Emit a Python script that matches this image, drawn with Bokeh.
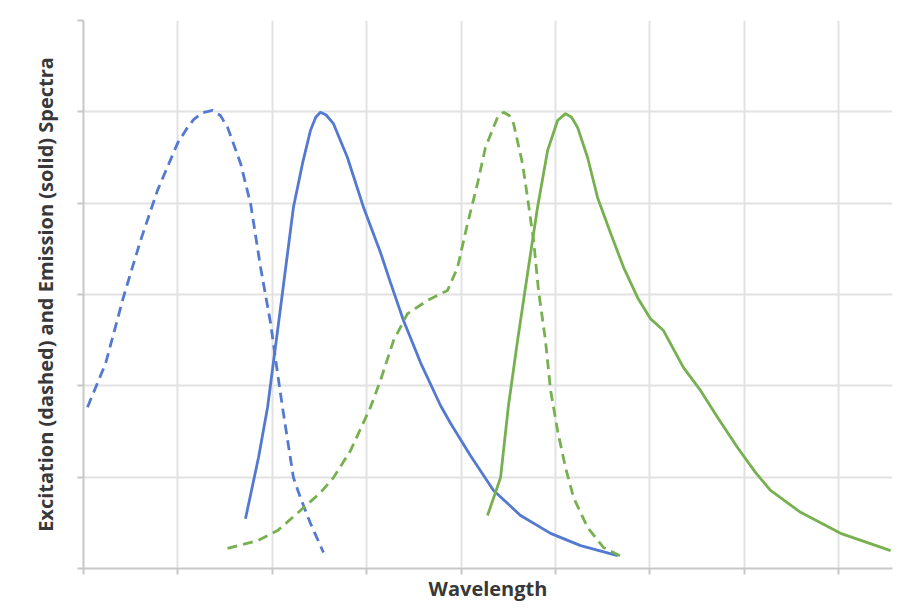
from bokeh.plotting import figure
from bokeh.models import Range1d, FixedTicker
from bokeh.embed import file_html
from bokeh.resources import INLINE

# Blue excitation (dashed)
blue_ex_x = [352.1, 361.7, 371.2, 380.2, 389.2, 399.8, 404.5, 408.3, 413.0, 418.3, 422.5, 426.3,
             433.2, 438.5, 443.8, 449.1, 452.8, 455.4, 461.2, 464.9, 470.2, 477.1]
blue_ex_y = [0.353, 0.449, 0.595, 0.718, 0.828, 0.931, 0.962, 0.983, 0.998, 1.003, 0.992, 0.966,
             0.887, 0.799, 0.659, 0.537, 0.427, 0.353, 0.199, 0.155, 0.099, 0.035]

# Blue emission (solid)
blue_em_x = [435.8, 442.7, 447.5, 454.4, 461.2, 466.0, 470.2, 473.0, 475.5, 478.5, 482.4, 489.8,
             498.3, 507.3, 512.6, 519.5, 528.5, 539.1, 544.4, 555.0, 567.2, 581.5, 597.4, 613.3,
             632.9]
blue_em_y = [0.109, 0.243, 0.353, 0.572, 0.791, 0.887, 0.959, 0.988, 0.999, 0.993, 0.974, 0.900,
             0.791, 0.692, 0.626, 0.543, 0.451, 0.357, 0.318, 0.247, 0.171, 0.116, 0.077, 0.050,
             0.028]

# Green excitation (dashed)
green_ex_x = [426.3, 442.2, 452.8, 464.9, 475.5, 482.4, 491.4, 502.0, 507.3, 514.2, 521.6,
              532.2, 542.8, 548.1, 553.4, 558.7, 562.9, 569.3, 572.5, 575.5, 577.8, 582.5, 585.2,
              588.4, 591.0, 594.7, 597.4, 601.1, 605.3, 609.6, 617.0, 625.4, 636.0]
green_ex_y = [0.044, 0.061, 0.083, 0.127, 0.166, 0.199, 0.258, 0.353, 0.412, 0.499, 0.558,
              0.587, 0.609, 0.659, 0.755, 0.843, 0.922, 0.988, 0.999, 0.992, 0.974, 0.887, 0.812,
              0.718, 0.609, 0.499, 0.390, 0.302, 0.221, 0.155, 0.090, 0.046, 0.024]

# Green emission (solid)
green_em_x = [564.0, 570.9, 575.1, 579.9, 585.2, 590.5, 595.8, 601.1, 605.3, 608.5, 611.7, 617.0,
              622.3, 629.2, 636.1, 643.5, 650.3, 657.2, 667.8, 676.8, 685.8, 696.4, 706.0,
              713.9, 729.8, 751.0, 777.5]
green_em_y = [0.116, 0.199, 0.357, 0.499, 0.646, 0.791, 0.915, 0.981, 0.996, 0.988, 0.966, 0.900,
              0.812, 0.734, 0.659, 0.593, 0.547, 0.521, 0.440, 0.390, 0.331, 0.265, 0.210,
              0.171, 0.123, 0.077, 0.039]

x_ticks = [350, 400, 450, 500, 550, 600, 650, 700, 750]
y_ticks = [0.0, 0.2, 0.4, 0.6, 0.8, 1.0, 1.2]

BLUE = "#5479d0"
GREEN = "#76b04f"

p = figure(width=902, height=616, output_backend="svg", toolbar_location=None,
           x_range=Range1d(350, 778.5), y_range=Range1d(0, 1.2),
           min_border_left=83, min_border_right=10, min_border_top=20, min_border_bottom=48)
p.outline_line_color = None
p.background_fill_color = "white"

p.xaxis.ticker = FixedTicker(ticks=x_ticks)
p.yaxis.ticker = FixedTicker(ticks=y_ticks)
p.xaxis.major_label_overrides = {t: "" for t in x_ticks}
p.yaxis.major_label_overrides = {t: "" for t in y_ticks}
for ax in (p.xaxis, p.yaxis):
    ax.major_label_standoff = 0
    ax.minor_tick_line_color = None
    ax.major_tick_in = 0
    ax.major_tick_out = 6
    ax.major_tick_line_color = "#c8c8c8"
    ax.major_tick_line_width = 2
    ax.axis_line_color = "#c8c8c8"
    ax.axis_line_width = 2
    ax.axis_label_text_font = "Open Sans"
    ax.axis_label_text_font_style = "bold"
    ax.axis_label_text_color = "#383838"

p.xaxis.axis_label = "Wavelength"
p.xaxis.axis_label_text_font_size = "20px"
p.xaxis.axis_label_standoff = 0
p.yaxis.axis_label = "Excitation (dashed) and Emission (solid) Spectra"
p.yaxis.axis_label_text_font_size = "20px"
p.yaxis.axis_label_standoff = 19

p.xgrid.ticker = FixedTicker(ticks=x_ticks)
p.ygrid.ticker = FixedTicker(ticks=y_ticks)
p.grid.grid_line_color = "#e2e2e2"
p.grid.grid_line_width = 2

p.line(blue_ex_x, blue_ex_y, line_color=BLUE, line_width=2.8, line_dash="10 6")
p.line(blue_em_x, blue_em_y, line_color=BLUE, line_width=2.8)
p.line(green_ex_x, green_ex_y, line_color=GREEN, line_width=2.8, line_dash="10 6")
p.line(green_em_x, green_em_y, line_color=GREEN, line_width=2.8)

open("out.html", "w").write(file_html(p, INLINE))
